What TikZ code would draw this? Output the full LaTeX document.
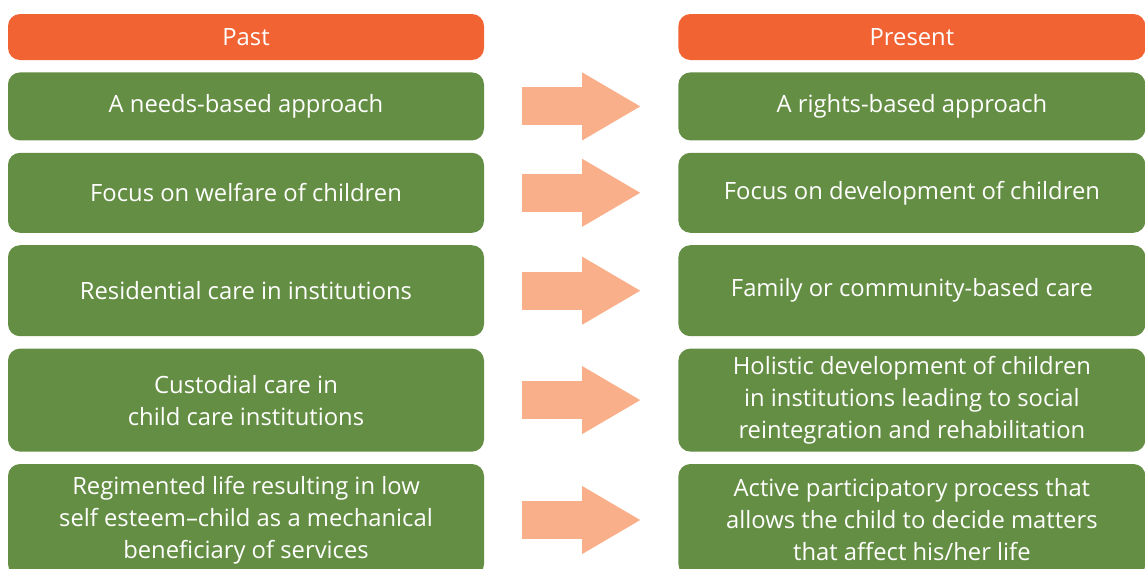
\documentclass[tikz,border=0pt]{standalone}
\usepackage{fontspec}
\setmainfont{Open Sans}
\usetikzlibrary{positioning,arrows.meta,calc}

\definecolor{hdrorange}{RGB}{242,99,51}
\definecolor{boxgreen}{RGB}{100,142,67}
\definecolor{arrpeach}{RGB}{249,176,138}

\begin{document}
\begin{tikzpicture}[
    x=1pt, y=-1pt,
    node distance=12pt,
    box/.style={rounded corners=12pt, inner sep=0pt, align=center, text=white, font=\fontsize{23.8}{32}\selectfont},
    pastbox/.style={box, fill=boxgreen, minimum width=476pt},
    nowbox/.style={box, fill=boxgreen, minimum width=467pt},
    hdr/.style={box, fill=hdrorange, minimum height=46pt},
    change/.style={line width=38pt, draw=arrpeach, shorten <=38pt, shorten >=38pt, -{Triangle[length=58pt, width=68pt, line width=0pt]}}
]

\useasboundingbox (0,0) rectangle (1145,568);

% Column 1: Past
\node[hdr, minimum width=476pt] (pasthdr) at (246,37) {Past};
\node[pastbox, minimum height=68pt, below=of pasthdr] (p1) {A needs-based approach};
\node[pastbox, minimum height=80pt, below=of p1] (p2) {Focus on welfare of children};
\node[pastbox, minimum height=91pt, below=of p2] (p3) {Residential care in institutions};
\node[pastbox, minimum height=103pt, below=of p3] (p4) {Custodial care in\\child care institutions};
\node[pastbox, minimum height=112pt, below=of p4] (p5) {Regimented life resulting in low\\self esteem\textendash child as a mechanical\\beneficiary of services};

% Column 2: Present
\node[hdr, minimum width=467pt, right=194pt of pasthdr] (nowhdr) {Present};
\node[nowbox, minimum height=68pt, right=194pt of p1] (n1) {A rights-based approach};
\node[nowbox, minimum height=80pt, right=194pt of p2] (n2) {Focus on development of children};
\node[nowbox, minimum height=91pt, right=194pt of p3] (n3) {Family or community-based care};
\node[nowbox, minimum height=103pt, right=194pt of p4] (n4) {Holistic development of children\\in institutions leading to social\\reintegration and rehabilitation};
\node[nowbox, minimum height=112pt, right=194pt of p5] (n5) {Active participatory process that\\allows the child to decide matters\\that affect his/her life};

% Arrows
\foreach \i in {1,...,5}
    \draw[change] (p\i) -- (n\i);

\end{tikzpicture}
\end{document}
